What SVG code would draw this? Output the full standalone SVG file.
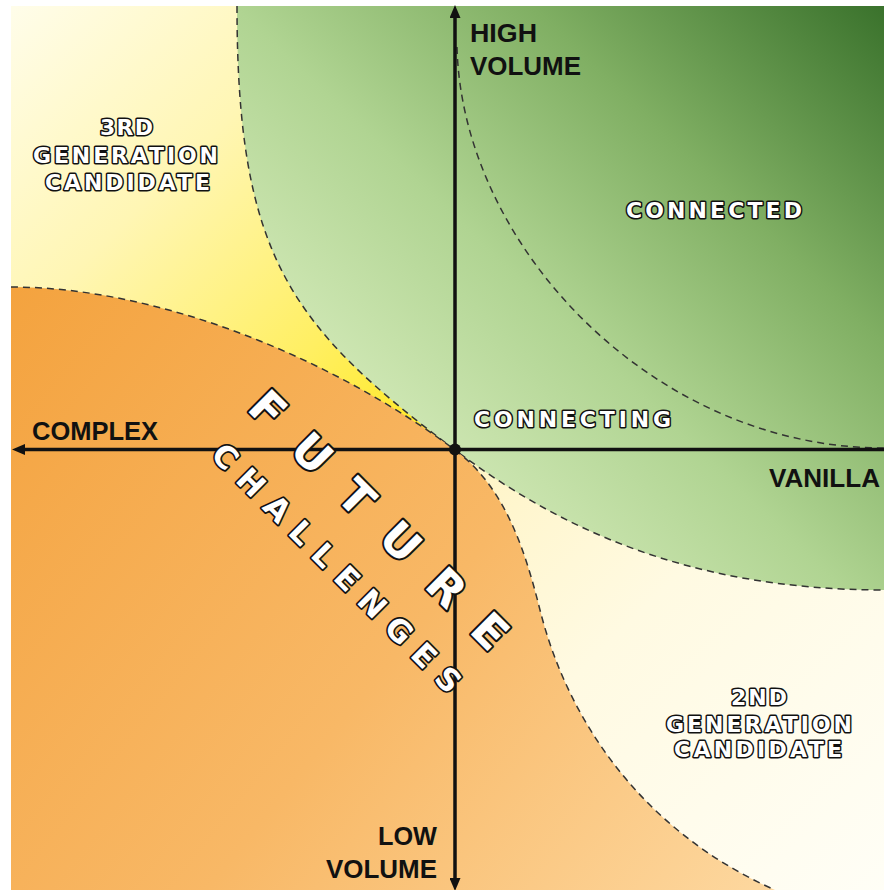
<svg xmlns="http://www.w3.org/2000/svg" width="884" height="890" viewBox="0 0 884 890">
  <defs>
    <clipPath id="frame"><rect x="11" y="6" width="873" height="884"/></clipPath>
    <linearGradient id="gYellow" gradientUnits="userSpaceOnUse" x1="11" y1="6" x2="420" y2="420">
      <stop offset="0" stop-color="#FFFDEA"/>
      <stop offset="0.4" stop-color="#FFF6B4"/>
      <stop offset="0.78" stop-color="#FFEF62"/>
      <stop offset="1" stop-color="#FFEA2A"/>
    </linearGradient>
    <linearGradient id="gGreen" gradientUnits="userSpaceOnUse" x1="440" y1="470" x2="884" y2="6">
      <stop offset="0" stop-color="#CFE7B4"/>
      <stop offset="0.3" stop-color="#B0D492"/>
      <stop offset="0.62" stop-color="#80AF63"/>
      <stop offset="1" stop-color="#3A722C"/>
    </linearGradient>
    <linearGradient id="gOrange" gradientUnits="userSpaceOnUse" x1="11" y1="290" x2="760" y2="890">
      <stop offset="0" stop-color="#F4A33F"/>
      <stop offset="0.55" stop-color="#F8B866"/>
      <stop offset="1" stop-color="#FDD79E"/>
    </linearGradient>
    <linearGradient id="gCream" gradientUnits="userSpaceOnUse" x1="455" y1="450" x2="884" y2="890">
      <stop offset="0" stop-color="#FFF4C4"/>
      <stop offset="0.4" stop-color="#FFFAE2"/>
      <stop offset="1" stop-color="#FFFEF6"/>
    </linearGradient>
    <marker id="arrow" viewBox="0 0 13 11" refX="4" refY="5.5" markerWidth="13" markerHeight="11" markerUnits="userSpaceOnUse" orient="auto-start-reverse">
      <path d="M0,0 L13,5.5 L0,11 z" fill="#111"/>
    </marker>
    <style>
      .bound { fill: none; stroke: #333; stroke-width: 1.5; stroke-dasharray: 7 5; }
      .axis { stroke: #111; stroke-width: 3.5; fill: none; }
      .axlabel { font-family: "Liberation Sans", Arial, sans-serif; font-weight: bold; font-size: 25px; fill: #111; }
      .outline { font-family: "DejaVu Sans", "Liberation Sans", sans-serif; font-weight: bold; font-size: 22px; fill: #fff; stroke: #111; stroke-width: 3; paint-order: stroke; stroke-linejoin: round; }
      .big { font-size: 45px; stroke-width: 4; }
      .mid { font-size: 31px; stroke-width: 3.4; }
    </style>
  </defs>

  <rect x="0" y="0" width="884" height="890" fill="#fff"/>

  <g clip-path="url(#frame)">
    <g id="region-3rd-generation">
      <rect x="11" y="6" width="873" height="884" fill="url(#gYellow)"/>
    </g>
    <g id="region-2nd-generation">
      <rect x="455" y="449" width="429" height="441" fill="url(#gCream)"/>
    </g>
    <g id="region-connected">
      <path d="M237,6 C237,256 290,326 455,450 C555,525 684,590 884,590 L884,6 Z" fill="url(#gGreen)"/>
      <path class="bound" d="M237,6 C237,256 290,326 455,450 C555,525 684,590 884,590"/>
      <path class="bound" d="M457,47 C462,247 654,448 884,448"/>
    </g>
    <g id="region-future-challenges">
      <path d="M11,287 C161,287 335,360 455,450 C505,487 525,550 540,610 C567,718 640,830 775,890 L11,890 Z" fill="url(#gOrange)"/>
      <path class="bound" d="M11,287 C161,287 335,360 455,450 C505,487 525,550 540,610 C567,718 640,830 775,890"/>
    </g>
  </g>

  <g id="connectors">
    <line class="axis" x1="455" y1="14" x2="455" y2="882" marker-start="url(#arrow)" marker-end="url(#arrow)"/>
    <line class="axis" x1="884" y1="449.5" x2="21" y2="449.5" marker-end="url(#arrow)"/>
    <circle cx="455" cy="449.5" r="6" fill="#111"/>
  </g>

  <g id="label-high-volume">
    <text class="axlabel" x="470" y="42" textLength="67" lengthAdjust="spacingAndGlyphs">HIGH</text>
    <text class="axlabel" x="470" y="75" textLength="111" lengthAdjust="spacingAndGlyphs">VOLUME</text>
  </g>
  <g id="label-complex">
    <text class="axlabel" x="32" y="440" textLength="126" lengthAdjust="spacingAndGlyphs">COMPLEX</text>
  </g>
  <g id="label-vanilla">
    <text class="axlabel" x="769" y="487" textLength="111" lengthAdjust="spacingAndGlyphs">VANILLA</text>
  </g>
  <g id="label-low-volume">
    <text class="axlabel" x="378" y="845" textLength="59" lengthAdjust="spacingAndGlyphs">LOW</text>
    <text class="axlabel" x="326" y="878" textLength="111" lengthAdjust="spacingAndGlyphs">VOLUME</text>
  </g>

  <g id="label-3rd-generation" text-anchor="middle">
    <text class="outline" x="126.5" y="135" textLength="53">3RD</text>
    <text class="outline" x="125.5" y="163" textLength="185">GENERATION</text>
    <text class="outline" x="127.5" y="190" textLength="165">CANDIDATE</text>
  </g>
  <g id="label-connected" text-anchor="middle">
    <text class="outline" x="714" y="218" textLength="176">CONNECTED</text>
  </g>
  <g id="label-connecting" text-anchor="middle">
    <text class="outline" x="572.5" y="427" textLength="197">CONNECTING</text>
  </g>
  <g id="label-2nd-generation" text-anchor="middle">
    <text class="outline" x="759" y="705" textLength="56">2ND</text>
    <text class="outline" x="759" y="732" textLength="186">GENERATION</text>
    <text class="outline" x="758" y="757" textLength="168">CANDIDATE</text>
  </g>
  <g id="label-future-challenges" transform="translate(379.5,519.5) rotate(45)" text-anchor="middle">
    <text class="outline big" x="0" y="16.5" textLength="345">FUTURE</text>
    <text class="outline mid" x="4" y="75.5" textLength="338">CHALLENGES</text>
  </g>
</svg>
